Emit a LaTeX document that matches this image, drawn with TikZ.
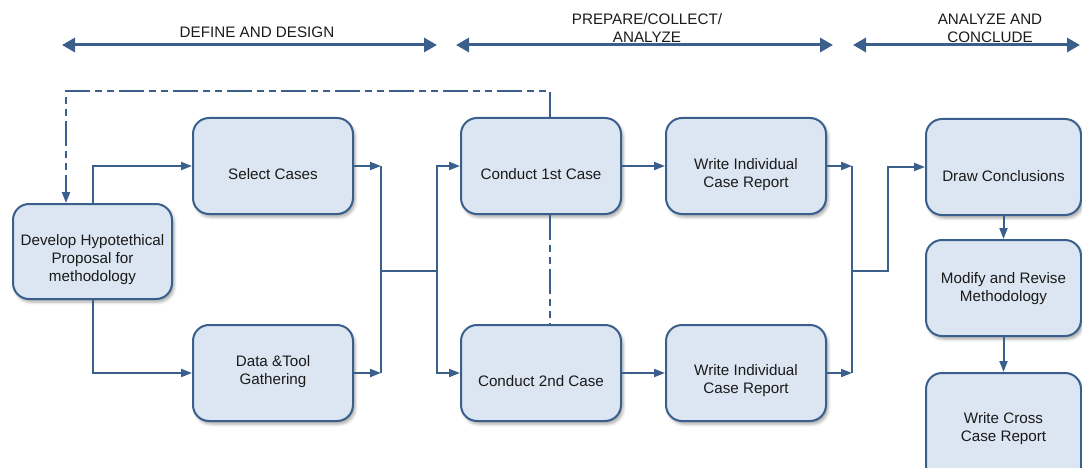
\documentclass[tikz,border=0pt]{standalone}
\usepackage{fontspec}
\setmainfont{Liberation Sans}
\usetikzlibrary{arrows.meta,calc,shadows.blur}
\definecolor{edge}{RGB}{58,95,140}
\definecolor{boxfill}{RGB}{220,230,242}
\definecolor{ink}{RGB}{26,26,26}
\begin{document}
\begin{tikzpicture}[x=1pt,y=-1pt,
  box/.style={draw=edge, fill=boxfill, line width=2pt, rounded corners=16pt,
    minimum width=160pt, minimum height=96pt, inner sep=0pt,
    blur shadow={shadow xshift=2pt, shadow yshift=-3pt, shadow blur radius=3pt, shadow opacity=35}},
  txt/.style={text=ink, align=center, font=\fontsize{15.2}{18}\selectfont, inner sep=0pt},
  conn/.style={draw=edge, line width=2pt},
  arr/.style={conn, -{Triangle[length=11pt,width=8pt]}},
  fback/.style={conn, dash pattern=on 25pt off 5pt on 7pt off 5pt on 7pt off 5pt},
  phase/.style={draw=edge, line width=3pt,
    {Triangle[length=13pt,width=14pt]}-{Triangle[length=13pt,width=14pt]}},
  head/.style={txt, text=ink}
]
\useasboundingbox (0,0) rectangle (1082,468);

% phase arrows and captions
\coordinate (p1a) at (62,45);  \coordinate (p1b) at (437,45);
\coordinate (p2a) at (456,45); \coordinate (p2b) at (833,45);
\coordinate (p3a) at (853,45); \coordinate (p3b) at (1080,45);
\draw[phase] (p1a) -- (p1b);
\draw[phase] (p2a) -- (p2b);
\draw[phase] (p3a) -- (p3b);
\node[head] (h1) at (257,32) {DEFINE AND DESIGN};
\node[head] (h2) at (647,28) {PREPARE/COLLECT/\\ANALYZE};
\node[head] (h3) at (990,28) {ANALYZE AND\\CONCLUDE};

% process boxes
\node[box, minimum width=159pt, minimum height=95pt] (dev) at (92.5,251.5) {};
\node[box] (sel)  at (273,166) {};
\node[box] (data) at (273,373) {};
\node[box] (c1)   at (541,166) {};
\node[box] (c2)   at (541,373) {};
\node[box] (w1)   at (746,166) {};
\node[box] (w2)   at (746,373) {};
\node[box, minimum width=155pt] (dc) at (1003.5,167) {};
\node[box, minimum width=155pt] (mr) at (1003.5,288) {};
\node[box, minimum width=155pt, minimum height=110pt] (wc) at (1003.5,428) {};

% box captions
\node[txt] (dev-t)  at (92.5,260) {Develop Hypotethical\\Proposal for\\methodology};
\node[txt] (sel-t)  at (273,174) {Select Cases};
\node[txt] (data-t) at (273,372) {Data \&Tool\\Gathering};
\node[txt] (c1-t)   at (541,174) {Conduct 1st Case};
\node[txt] (c2-t)   at (541,381) {Conduct 2nd Case};
\node[txt] (w1-t)   at (746,175) {Write Individual\\Case Report};
\node[txt] (w2-t)   at (746,381) {Write Individual\\Case Report};
\node[txt] (dc-t)   at (1003.5,176) {Draw Conclusions};
\node[txt] (mr-t)   at (1003.5,288.5) {Modify and Revise\\Methodology};
\node[txt] (wc-t)   at (1003.5,429) {Write Cross\\Case Report};

% junction points
\coordinate (jl1) at (381,166);
\coordinate (jl2) at (381,373);
\coordinate (jlm) at (381,271);
\coordinate (jrm) at (437,271);
\coordinate (kl1) at (852,166);
\coordinate (kl2) at (852,373);
\coordinate (klm) at (852,271);
\coordinate (krm) at (888,271);
\coordinate (fb)  at (66,91);
\coordinate (c1n) at ($(c1.north)+(9,0)$);

% connectors
\draw[arr] (dev.north) |- (sel.west);
\draw[arr] (dev.south) |- (data.west);
\draw[arr] (sel.east) -- (jl1);
\draw[arr] (data.east) -- (jl2);
\draw[conn] (jl1) -- (jl2);
\draw[conn] (jlm) -- (jrm);
\draw[arr] (jrm) |- (c1.west);
\draw[arr] (jrm) |- (c2.west);
\draw[arr] (c1.east) -- (w1.west);
\draw[arr] (c2.east) -- (w2.west);
\draw[arr] (w1.east) -- (kl1);
\draw[arr] (w2.east) -- (kl2);
\draw[conn] (kl1) -- (kl2);
\draw[arr] (klm) -- (krm) |- (dc.west);
\draw[arr] (dc.south) -- (mr.north);
\draw[arr] (mr.south) -- (wc.north);

% feedback (dashed)
\draw[fback, -{Triangle[length=11pt,width=8pt]}] (c1n) |- (fb) -- (fb |- dev.north);
\draw[fback] (c1.south -| c1n) -- (c2.north -| c1n);
\end{tikzpicture}
\end{document}
